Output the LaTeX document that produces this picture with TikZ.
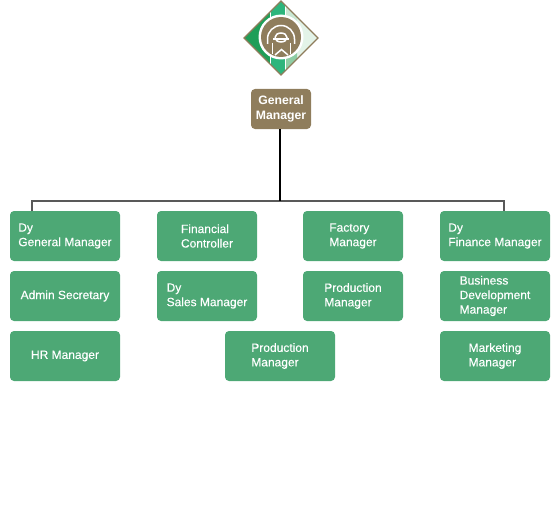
\documentclass[tikz,border=0pt]{standalone}
\usepackage{fontspec}
\setmainfont{Liberation Sans}
\newfontfamily\postfont{Liberation Sans}[FakeBold=0.25]
\definecolor{boxgreen}{HTML}{4DA875}
\definecolor{boxbrown}{HTML}{8F7D5C}
\definecolor{logodark}{HTML}{1F9E58}
\definecolor{logomid}{HTML}{2DB57C}
\definecolor{logosoft}{HTML}{8FCDA4}
\definecolor{logopale}{HTML}{E3F3E8}
\tikzset{
    post/.style={fill=boxgreen, rounded corners=4pt, text=white, align=left, inner sep=0pt, font=\fontsize{12}{14.5}\postfont},
    wide/.style={post, minimum width=110pt, minimum height=50pt},
    narrow/.style={post, minimum width=100pt, minimum height=50pt},
    head/.style={post, fill=boxbrown, minimum width=60pt, minimum height=40pt, align=center, font=\fontsize{12.2}{15}\selectfont\bfseries},
    link/.style={draw=black!65, line width=1.2pt},
    icon/.style={white, line width=1.5pt}
}
\begin{document}
\begin{tikzpicture}[x=1pt, y=-1pt]
    \useasboundingbox (0,0) rectangle (560,511);

    % Logo
    \fill[logopale] (281,1) -- (318,38) -- (281,75) -- (244,38) -- cycle;
    \fill[logodark] (270,12) -- (270,64) -- (244,38) -- cycle;
    \fill[logomid] (270,12) -- (281,1) -- (285.5,5.5) -- (285.5,70.5) -- (281,75) -- (270,64) -- cycle;
    \fill[logopale!70!logosoft] (285.5,5.5) -- (297,17) -- (297,38) -- (285.5,38) -- cycle;
    \fill[logosoft] (285.5,38) -- (297,38) -- (297,59) -- (285.5,70.5) -- cycle;
    \draw[white, line width=0.7pt] (270,12) -- (270,64) (285.5,5.5) -- (285.5,70.5);
    \draw[boxbrown, line width=1.1pt] (281,1) -- (318,38) -- (281,75) -- (244,38) -- cycle;
    \fill[white] (281,37) circle (22.5);
    \fill[boxbrown] (281,37) circle (20);
    \draw[icon] (267.5,44) -- (267.5,39) arc (180:360:13.5) -- (294.5,44);
    \draw[icon] (275,37.5) arc (180:360:6 and 4.5) arc (0:180:6 and 4.5);
    \draw[icon] (273,39) -- (289,39);
    \draw[icon] (272.5,43) -- (272.5,54) (290.5,43) -- (290.5,54);
    \draw[icon] (275,55) -- (281.5,49.5) -- (288,55);

    % Boxes
    \node[head] (gm) at (281,109) {General\\Manager};

    \node[wide] (dygm) at (65,236) {Dy\\General Manager};
    \node[wide] (admin) at (65,296) {Admin Secretary};
    \node[wide] (hr) at (65,356) {HR Manager};

    \node[narrow] (fc) at (207,236) {Financial\\Controller};
    \node[narrow] (dysales) at (207,296) {Dy\\Sales Manager};

    \node[narrow] (factory) at (353,236) {Factory\\Manager};
    \node[narrow] (prodb) at (353,296) {Production\\Manager};
    \node[wide] (prodc) at (280,356) {Production\\Manager};

    \node[wide] (dyfin) at (495,236) {Dy\\Finance Manager};
    \node[wide] (bdm) at (495,296) {Business\\Development\\Manager};
    \node[wide] (mkt) at (495,356) {Marketing\\Manager};

    % Lines
    \coordinate (gmfoot) at (279.5,129);
    \coordinate (mid) at (279.5,201);
    \coordinate (left) at (32,201);
    \coordinate (right) at (504,201);
    \coordinate (leftfoot) at (32,211);
    \coordinate (rightfoot) at (504,211);
    \draw[link] (leftfoot) -- (left) -- (right) -- (rightfoot);
    \draw[black, line width=2pt] (gmfoot) -- (mid);
\end{tikzpicture}
\end{document}
